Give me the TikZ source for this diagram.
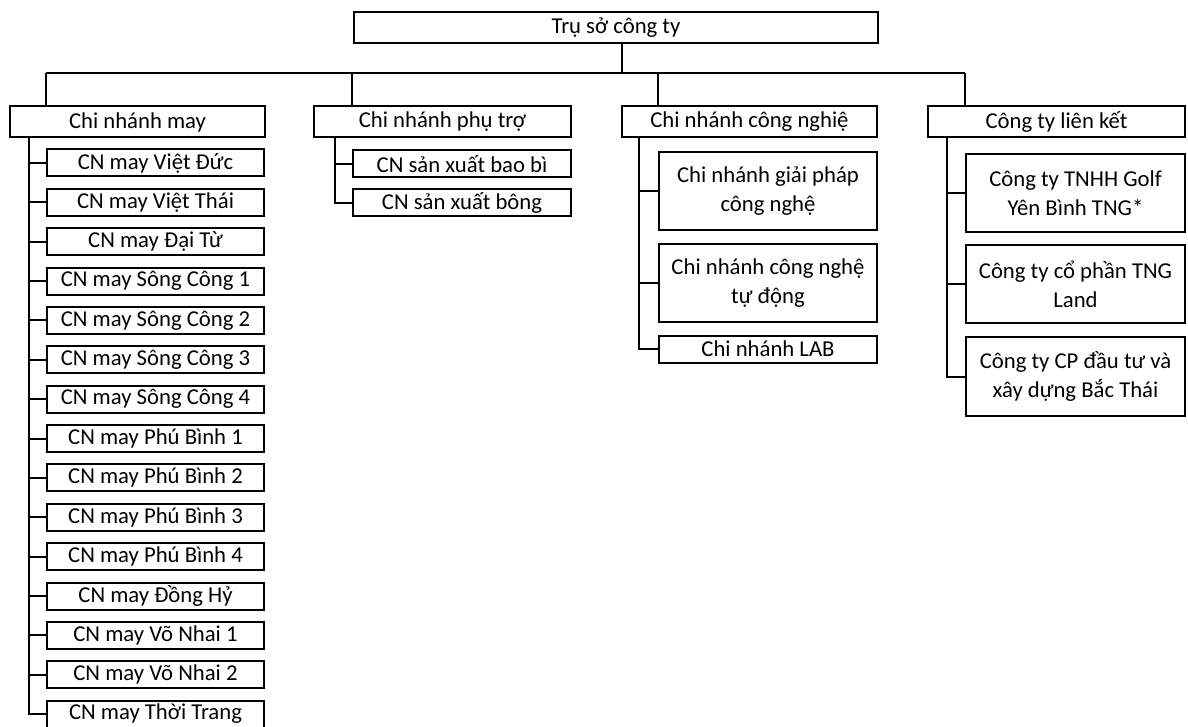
\documentclass[tikz,border=0pt]{standalone}
\usepackage{fontspec}
\setmainfont{Carlito}
\usepackage{tikz}

\begin{document}
\begin{tikzpicture}[x=1pt,y=-1pt]
\tikzset{hop/.style={draw,rectangle,line width=2pt,inner sep=0pt,minimum height=#1,align=center,font=\fontsize{22.7}{29}\selectfont},
hop/.default=27pt,
noi/.style={line width=2pt}}
\useasboundingbox (0,0) rectangle (1188,727);

% Tru so
\node (top) at (616,27.5) [hop=31pt,minimum width=524pt] {Trụ sở công ty};
% Cap 1
\node (may) at (137.5,122) [hop=31pt,minimum width=255pt] {Chi nhánh may};
\node (pt) at (442.5,122) [hop=31pt,minimum width=257pt] {Chi nhánh phụ trợ};
\node (cn) at (749.5,122) [hop=31pt,minimum width=255pt] {Chi nhánh công nghiệ};
\node (lk) at (1056.5,122) [hop=31pt,minimum width=257pt] {Công ty liên kết};
% Chi nhanh may
\node (vd) at (155.5,163) [hop,minimum width=217pt] {CN may Việt Đức};
\node (vt) at (155.5,202.4) [hop,minimum width=217pt] {CN may Việt Thái};
\node (dt) at (155.5,241.7) [hop,minimum width=217pt] {CN may Đại Từ};
\node (sc1) at (155.5,281.1) [hop,minimum width=217pt] {CN may Sông Công 1};
\node (sc2) at (155.5,320.4) [hop,minimum width=217pt] {CN may Sông Công 2};
\node (sc3) at (155.5,359.8) [hop,minimum width=217pt] {CN may Sông Công 3};
\node (sc4) at (155.5,399.2) [hop,minimum width=217pt] {CN may Sông Công 4};
\node (pb1) at (155.5,438.5) [hop,minimum width=217pt] {CN may Phú Bình 1};
\node (pb2) at (155.5,477.9) [hop,minimum width=217pt] {CN may Phú Bình 2};
\node (pb3) at (155.5,517.2) [hop,minimum width=217pt] {CN may Phú Bình 3};
\node (pb4) at (155.5,556.6) [hop,minimum width=217pt] {CN may Phú Bình 4};
\node (dh) at (155.5,596) [hop,minimum width=217pt] {CN may Đồng Hỷ};
\node (vn1) at (155.5,635.3) [hop,minimum width=217pt] {CN may Võ Nhai 1};
\node (vn2) at (155.5,674.7) [hop,minimum width=217pt] {CN may Võ Nhai 2};
\node (tt) at (155.5,714) [hop,minimum width=217pt] {CN may Thời Trang};
% Chi nhanh phu tro
\node (bb) at (462,164) [hop,minimum width=218pt] {CN sản xuất bao bì};
\node (bo) at (462,203) [hop,minimum width=218pt] {CN sản xuất bông};
% Chi nhanh cong nghe
\node (gp) at (768,191) [hop=78pt,minimum width=218pt] {Chi nhánh giải pháp\\công nghệ};
\node (td) at (768,283) [hop=78pt,minimum width=218pt] {Chi nhánh công nghệ\\tự động};
\node (lab) at (768,349) [hop,minimum width=218pt] {Chi nhánh LAB};
% Cong ty lien ket
\node (lk1) at (1075.5,193) [hop=78pt,minimum width=219pt] {Công ty TNHH Golf\\Yên Bình TNG*};
\node (lk2) at (1075.5,284) [hop=78pt,minimum width=219pt] {Công ty cổ phần TNG\\Land};
\node (lk3) at (1075.5,376.5) [hop=79pt,minimum width=219pt] {Công ty CP đầu tư và\\xây dựng Bắc Thái};

% duong noi
\coordinate (bus) at (616,73);
\coordinate (topc) at ([xshift=6pt]top.south);
\coordinate (mayv) at ([xshift=20pt]may.south west);
\coordinate (ptv) at ([xshift=22pt]pt.south west);
\coordinate (cnv) at ([xshift=18pt]cn.south west);
\coordinate (lkv) at ([xshift=20pt]lk.south west);

\draw[noi] (topc) -- (topc |- bus);
\draw[noi] (vd.west |- bus) -- (lk1.west |- bus);
\draw[noi] (vd.west |- bus) -- (vd.west |- may.north);
\draw[noi] (bb.west |- bus) -- (bb.west |- pt.north);
\draw[noi] (gp.west |- bus) -- (gp.west |- cn.north);
\draw[noi] (lk1.west |- bus) -- (lk1.west |- lk.north);

\draw[noi] (mayv) |- (tt.west);
\foreach \k in {vd,vt,dt,sc1,sc2,sc3,sc4,pb1,pb2,pb3,pb4,dh,vn1,vn2}
  \draw[noi] (mayv |- \k.west) -- (\k.west);
\draw[noi] (ptv) |- (bo.west);
\draw[noi] (ptv |- bb.west) -- (bb.west);
\draw[noi] (cnv) |- (lab.west);
\draw[noi] (cnv |- gp.west) -- (gp.west);
\draw[noi] (cnv |- td.west) -- (td.west);
\draw[noi] (lkv) |- (lk3.west);
\draw[noi] (lkv |- lk1.west) -- (lk1.west);
\draw[noi] (lkv |- lk2.west) -- (lk2.west);

\end{tikzpicture}
\end{document}
